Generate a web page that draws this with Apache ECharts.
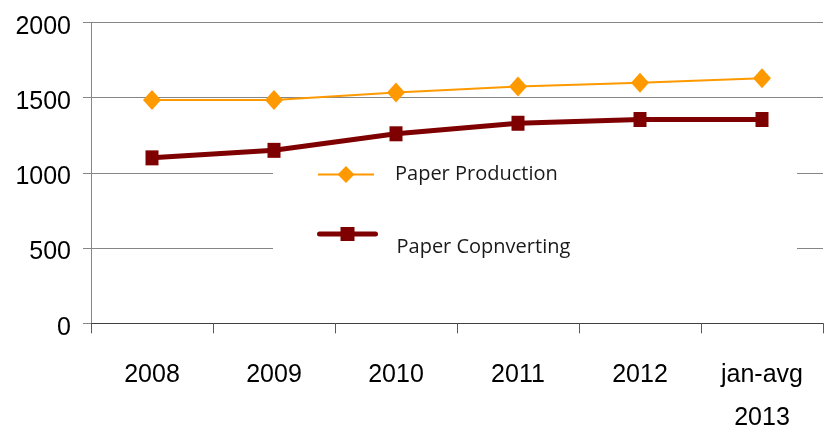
<!DOCTYPE html>
<html>
<head>
<meta charset="utf-8">
<script src="https://cdn.jsdelivr.net/npm/echarts@6/dist/echarts.min.js"></script>
<style>
  html, body { margin: 0; padding: 0; background: #fff; }
  #chart { width: 832px; height: 446px; }
</style>
</head>
<body>
<div id="chart"></div>
<script>
// Categories along the x axis
var years = ['2008', '2009', '2010', '2011', '2012', 'jan-avg\n2013'];

// Yearly volumes for each series
var paperProduction = [1485, 1485, 1535, 1575, 1600, 1630];
var paperConverting = [1100, 1150, 1260, 1330, 1355, 1355];

// Value-axis range and step
var yMin = 0;
var yMax = 2000;
var yStep = 500;

var axisFont = "'Liberation Sans Narrow', 'Liberation Sans', sans-serif";
var legendFont = "'Open Sans', 'Noto Sans', sans-serif";
var orange = '#FF9900';
var maroon = '#7F0000';

var chart = echarts.init(document.getElementById('chart'), null, { renderer: 'canvas' });

chart.setOption({
  animation: false,
  backgroundColor: '#ffffff',
  grid: { left: 91, right: 9, top: 22.5, bottom: 122.7 },
  // white panel behind the legend, hiding the grid lines there
  graphic: [{
    type: 'rect',
    z: 1,
    shape: { x: 273, y: 150, width: 524, height: 120 },
    style: { fill: '#ffffff' },
    silent: true
  }],
  legend: [{
    data: ['Paper Production'],
    left: 317,
    top: 164.5,
    padding: 0,
    itemWidth: 56,
    itemHeight: 21,
    lineStyle: { width: 2 },
    textStyle: { fontFamily: legendFont, fontSize: 20, color: '#1a1a1a', padding: [0, 0, 0, 16] }
  }, {
    data: ['Paper Copnverting'],
    left: 317,
    top: 208,
    padding: 0,
    itemWidth: 56,
    itemHeight: 17.5,
    lineStyle: { width: 5, cap: 'round' },
    // label sits a line-half below its icon
    formatter: function (name) { return '\n' + name; },
    textStyle: { fontFamily: legendFont, fontSize: 20, lineHeight: 26, color: '#1a1a1a', padding: [0, 0, 0, 16] }
  }],
  xAxis: {
    type: 'category',
    data: years,
    boundaryGap: true,
    axisLine: { lineStyle: { color: '#404040', width: 1 } },
    axisTick: { show: true, length: 10, interval: 0, alignWithLabel: false, lineStyle: { color: '#595959' } },
    axisLabel: {
      interval: 0,
      margin: 30,
      fontFamily: axisFont,
      fontSize: 25,
      color: '#000',
      lineHeight: 43
    },
    splitLine: { show: false }
  },
  yAxis: {
    type: 'value',
    min: yMin,
    max: yMax,
    interval: yStep,
    axisLine: { show: true, lineStyle: { color: '#868686', width: 1 } },
    axisTick: { show: true, length: 8, lineStyle: { color: '#868686' } },
    axisLabel: {
      margin: 20,
      formatter: function (v) { return '{v|' + v + '}'; },
      rich: {
        // numbers sit slightly below their grid line
        v: {
          fontFamily: axisFont,
          fontSize: 25,
          color: '#000',
          lineHeight: 34,
          verticalAlign: 'bottom'
        }
      }
    },
    splitLine: { show: true, lineStyle: { color: '#868686', width: 1 } }
  },
  series: [{
    name: 'Paper Production',
    type: 'line',
    data: paperProduction,
    symbol: 'diamond',
    symbolSize: [18, 20],
    lineStyle: { color: orange, width: 2 },
    itemStyle: { color: orange },
    z: 3
  }, {
    name: 'Paper Copnverting',
    type: 'line',
    data: paperConverting,
    symbol: 'rect',
    symbolSize: [13, 15],
    lineStyle: { color: maroon, width: 5 },
    itemStyle: { color: maroon },
    z: 2
  }]
});
</script>
</body>
</html>
